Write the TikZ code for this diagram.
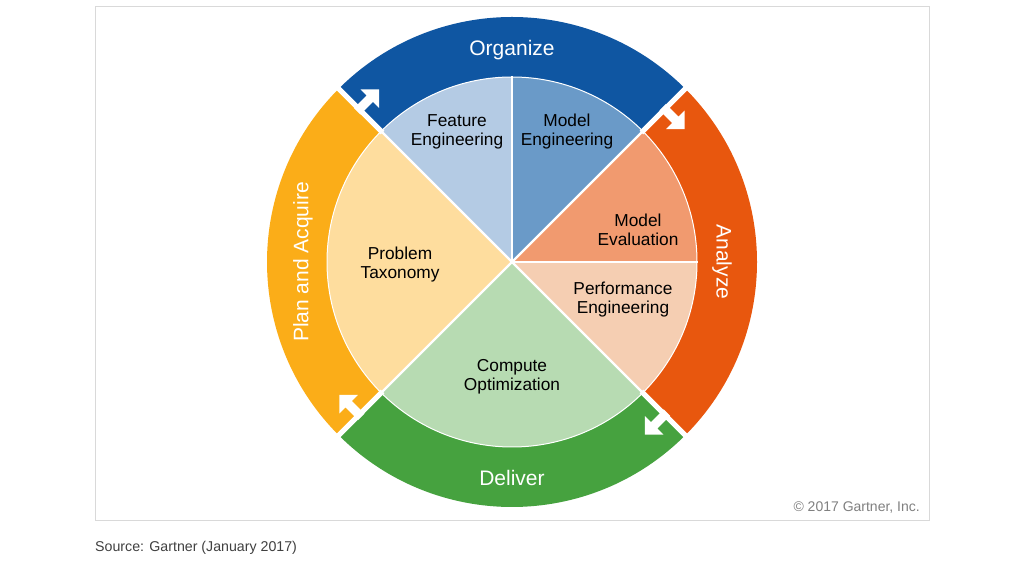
\documentclass[tikz,border=0pt]{standalone}
\usepackage{fontspec}
\setmainfont{Liberation Sans}
\definecolor{orgC}{HTML}{0F56A2}
\definecolor{anaC}{HTML}{E8570E}
\definecolor{delC}{HTML}{46A23F}
\definecolor{plaC}{HTML}{FBAD18}
\definecolor{feaC}{HTML}{B4CBE4}
\definecolor{megC}{HTML}{6A9AC8}
\definecolor{mevC}{HTML}{F19A6F}
\definecolor{perC}{HTML}{F5CEB2}
\definecolor{comC}{HTML}{B7DBB2}
\definecolor{proC}{HTML}{FEDD9E}
\definecolor{frameC}{HTML}{D9D9D9}
\begin{document}
\begin{tikzpicture}[x=1pt,y=1pt,
  ringlabel/.style={text=white,font=\fontsize{21}{24}\selectfont,inner sep=0pt},
  pielabel/.style={text=black,font=\fontsize{17.3}{19}\selectfont,align=center,inner sep=0pt},
  gapline/.style={white,line width=5pt},
  pieline/.style={white,line width=2.2pt},
  flowarrow/.style={fill=white}]
\useasboundingbox (0,0) rectangle (1024,561);
\fill[white] (0,0) rectangle (1024,561);
\draw[frameC,line width=1pt] (95,40) rectangle (929,554);
\coordinate (O) at (512,299);
% ring segments
\foreach \a/\c in {45/orgC,-45/anaC,-135/delC,135/plaC}{
  \fill[\c] ([shift={(O)}]\a:185) -- ([shift={(O)}]\a:245)
     arc[start angle=\a,end angle=\a+90,radius=245]
     -- ([shift={(O)}]\a+90:185)
     arc[start angle=\a+90,end angle=\a,radius=185] -- cycle;
}
% pie sectors
\foreach \s/\e/\c in {90/135/feaC,45/90/megC,0/45/mevC,-45/0/perC,-135/-45/comC,135/225/proC}{
  \fill[\c] (O) -- ([shift={(O)}]\s:185) arc[start angle=\s,end angle=\e,radius=185] -- cycle;
}
\draw[white,line width=1pt] (O) circle[radius=185];
% gaps between ring segments
\foreach \a in {45,135,225,315}{
  \draw[gapline] ([shift={(O)}]\a:183) -- ([shift={(O)}]\a:250);
}
% separators in pie
\foreach \a in {0,45,90,135,225,315}{
  \draw[pieline] (O) -- ([shift={(O)}]\a:186);
}
% arrows
\foreach \a in {45,135,225,315}{
  \begin{scope}[shift={(O)},shift={(\a:216)},rotate=\a-90]
    \fill[flowarrow] (-3,-4.5) -- (15,-4.5) -- (15,-13) -- (28,0) -- (15,13) -- (15,4.5) -- (-3,4.5) -- cycle;
  \end{scope}
}
% ring labels
\node[ringlabel] (org) at (512,511) {Organize};
\node[ringlabel] (del) at (512,83) {Deliver};
\node[ringlabel,rotate=-90] (ana) at (722,299) {Analyze};
\node[ringlabel,rotate=90] (pla) at (303,299) {Plan and Acquire};
% pie labels
\node[pielabel] (fea) at (457,429) {Feature\\Engineering};
\node[pielabel] (meg) at (567,429) {Model\\Engineering};
\node[pielabel] (mev) at (638,331) {Model\\Evaluation};
\node[pielabel] (per) at (623,261) {Performance\\Engineering};
\node[pielabel] (com) at (512,184) {Compute\\Optimization};
\node[pielabel] (pro) at (400,296) {Problem\\Taxonomy};
% footer texts
\node[anchor=east,text=black!50,font=\fontsize{14}{16}\selectfont,inner sep=0pt] (copy) at (920,53) {© 2017 Gartner, Inc.};
\node[anchor=west,text=black!75,font=\fontsize{14.2}{17}\selectfont,inner sep=0pt] (src) at (95,13) {Source: Gartner (January 2017)};
\end{tikzpicture}
\end{document}
